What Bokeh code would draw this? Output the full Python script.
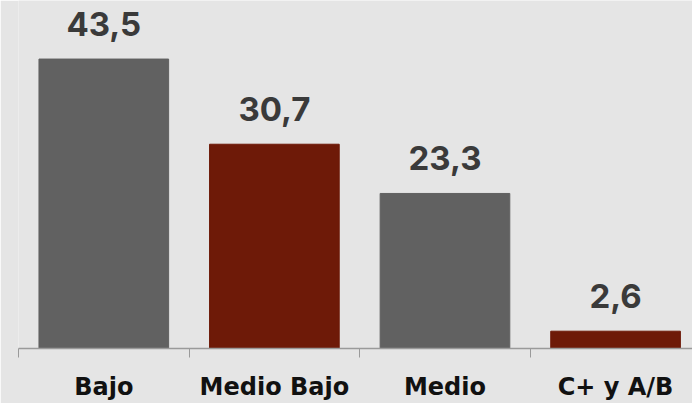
from bokeh.plotting import figure
from bokeh.models import ColumnDataSource, FixedTicker, Range1d
from bokeh.core.properties import value
from bokeh.embed import file_html
from bokeh.resources import INLINE

categories = ["Bajo", "Medio Bajo", "Medio", "C+ y A/B"]
values = [43.5, 30.7, 23.3, 2.6]
labels = ["43,5", "30,7", "23,3", "2,6"]
colors = ["#616161", "#6e1a08", "#616161", "#6e1a08"]

xs = [i + 0.5 for i in range(len(categories))]
src = ColumnDataSource(dict(x=xs, top=values, color=colors, label=labels))

BG = "#e5e5e5"
p = figure(width=692, height=403, output_backend="svg", toolbar_location=None,
           x_range=Range1d(0, 3.951), y_range=Range1d(0, 52.3),
           min_border_left=18, min_border_right=0, min_border_top=0, min_border_bottom=55)
p.background_fill_color = BG
p.border_fill_color = BG
p.outline_line_color = None
p.grid.visible = False
p.yaxis.visible = False

p.vbar(x="x", top="top", width=0.76, color="color", source=src)
p.text(x="x", y="top", text="label", source=src, text_align="center",
       text_baseline="alphabetic", y_offset=-35, text_font=value("Inter"),
       text_font_style="bold", text_font_size="33px", text_color="#3a3a3a")

ax = p.xaxis[0]
ax.ticker = FixedTicker(ticks=xs, minor_ticks=list(range(len(categories) + 1)))
ax.major_label_overrides = {x: c for x, c in zip(xs, categories)}
ax.major_tick_out = 0
ax.major_tick_in = 0
ax.minor_tick_out = 9
ax.minor_tick_in = 0
ax.axis_line_color = "#9a9a9a"
ax.minor_tick_line_color = "#9a9a9a"
ax.axis_line_width = 1.5
ax.major_label_standoff = 15
ax.major_label_text_font = "DejaVu Sans"
ax.major_label_text_font_style = "bold"
ax.major_label_text_font_size = "24px"
ax.major_label_text_color = "#111111"

open("out.html", "w").write(file_html(p, INLINE))
